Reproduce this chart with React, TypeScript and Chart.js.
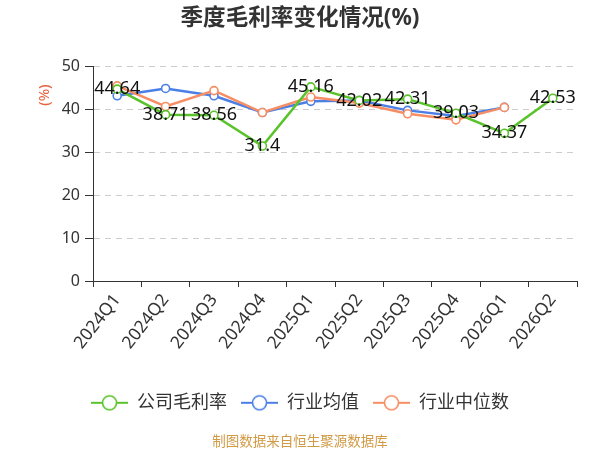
import { useEffect, useRef } from "react";
import { Chart, registerables } from "chart.js";

Chart.register(...registerables);

const categories = ["2024Q1", "2024Q2", "2024Q3", "2024Q4", "2025Q1", "2025Q2", "2025Q3", "2025Q4", "2026Q1", "2026Q2"];
const companyMargin = [44.64, 38.71, 38.56, 31.4, 45.16, 42.02, 42.31, 39.03, 34.37, 42.53];
const industryMean = [43.1, 44.8, 43.1, 39.2, 41.8, 42.0, 39.7, 38.4, 40.4, null];
const industryMedian = [45.4, 40.6, 44.3, 39.2, 42.8, 41.4, 38.9, 37.5, 40.4, null];
const seriesNames = ["公司毛利率", "行业均值", "行业中位数"];
const seriesColors = ["#5ac22a", "#4a7fe6", "#f68d63"];
const yMin = 0;
const yMax = 50;
const yStep = 10;
const titleText = "季度毛利率变化情况(%)";
const footerText = "制图数据来自恒生聚源数据库";
const unitText = "(%)";

const FONT = '"Noto Sans", "Noto Sans CJK SC", sans-serif';

function legendIcon(color: string): HTMLCanvasElement {
  const c = document.createElement("canvas");
  c.width = 37;
  c.height = 20;
  const ctx = c.getContext("2d")!;
  ctx.strokeStyle = color;
  ctx.lineWidth = 2;
  ctx.beginPath();
  ctx.moveTo(0, 10);
  ctx.lineTo(37, 10);
  ctx.stroke();
  ctx.beginPath();
  ctx.arc(18.5, 10, 7, 0, Math.PI * 2);
  ctx.fillStyle = "#fff";
  ctx.fill();
  ctx.lineWidth = 1.6;
  ctx.stroke();
  return c;
}

const dataLabelPlugin = {
  id: "dataLabels",
  afterDatasetsDraw(chart: any) {
    const meta = chart.getDatasetMeta(0);
    const ctx = chart.ctx;
    ctx.save();
    ctx.font = `18px ${FONT}`;
    ctx.fillStyle = "#111";
    ctx.textAlign = "center";
    ctx.textBaseline = "middle";
    meta.data.forEach((pt: any, i: number) => {
      const v = companyMargin[i];
      if (v == null) return;
      ctx.fillText(String(v), pt.x, pt.y);
    });
    ctx.restore();
  },
};

const unitPlugin = {
  id: "unitLabel",
  afterDraw(chart: any) {
    const ctx = chart.ctx;
    const area = chart.chartArea;
    ctx.save();
    ctx.translate(area.left - 48, area.top + 29);
    ctx.rotate(-Math.PI / 2);
    ctx.font = `15px ${FONT}`;
    ctx.fillStyle = "#e8603c";
    ctx.textAlign = "center";
    ctx.textBaseline = "middle";
    ctx.fillText(unitText, 0, 0);
    ctx.restore();
  },
};

export default function App() {
  const ref = useRef<HTMLCanvasElement | null>(null);

  useEffect(() => {
    if (!ref.current) return;
    const allSeries = [companyMargin, industryMean, industryMedian];
    const chart = new Chart(ref.current, {
      type: "line",
      data: {
        labels: categories,
        datasets: allSeries.map((d, i) => ({
          label: seriesNames[i],
          data: d,
          borderColor: seriesColors[i],
          backgroundColor: "#fff",
          borderWidth: 2.5,
          pointRadius: 4,
          pointBorderWidth: 1.6,
          pointBackgroundColor: "#fff",
          pointBorderColor: seriesColors[i],
          tension: 0,
          spanGaps: false,
          yAxisID: "y",
          order: i === 0 ? 0 : i === 1 ? 2 : 1,
        })),
      },
      options: {
        animation: false,
        responsive: true,
        maintainAspectRatio: false,
        layout: { padding: { left: 0, right: 0, top: 0, bottom: 0 } },
        plugins: {
          tooltip: { enabled: false },
          title: {
            display: true,
            text: titleText,
            color: "#333",
            font: { family: FONT, size: 22.6, weight: "bold" },
            padding: { top: 5, bottom: 34 },
          },
          subtitle: {
            display: true,
            text: footerText,
            position: "bottom",
            color: "#d19a45",
            font: { family: FONT, size: 13.5, weight: "normal" },
            padding: { top: 12, bottom: 0 },
          },
          legend: {
            display: true,
            position: "bottom",
            labels: {
              usePointStyle: true,
              pointStyleWidth: 37,
              padding: 14,
              color: "#333",
              font: { family: FONT, size: 18 },
              generateLabels: (ch: any) =>
                ch.data.datasets.map((ds: any, i: number) => ({
                  text: ds.label,
                  fillStyle: "#fff",
                  strokeStyle: seriesColors[i],
                  lineWidth: 0,
                  pointStyle: legendIcon(seriesColors[i]),
                  hidden: false,
                  datasetIndex: i,
                  fontColor: "#333",
                })),
            },
          },
        },
        scales: {
          x: {
            offset: true,
            grid: {
              display: true,
              offset: true,
              drawOnChartArea: false,
              drawTicks: true,
              tickLength: 6,
              tickColor: "#333",
              color: "#333",
            },
            border: { display: true, color: "#333", width: 1 },
            ticks: {
              autoSkip: false,
              minRotation: 52,
              maxRotation: 52,
              padding: 3,
              color: "#333",
              font: { family: FONT, size: 17.5 },
            },
            afterFit: (s: any) => {
              s.height = 98.8;
            },
          },
          y: {
            min: yMin,
            max: yMax,
            ticks: {
              stepSize: yStep,
              padding: 5,
              color: "#333",
              font: { family: FONT, size: 16 },
            },
            grid: {
              color: "#cccccc",
              lineWidth: 1,
              tickLength: 8,
              tickColor: "#333",
              tickBorderDash: [],
              tickWidth: 1,
            },
            border: { display: true, color: "#333", width: 1, dash: [6, 5] },
            afterFit: (s: any) => {
              s.width = 93;
            },
          },
          yPad: {
            position: "right",
            display: true,
            min: yMin,
            max: yMax,
            ticks: { display: false },
            grid: { display: false, drawTicks: false },
            border: { display: false },
            afterFit: (s: any) => {
              s.width = 23;
            },
          },
        },
      },
      plugins: [dataLabelPlugin, unitPlugin],
    });
    return () => chart.destroy();
  }, []);

  return (
    <div style={{ position: "fixed", left: 0, top: 0, width: 600, height: 450, background: "#fff" }}>
      <canvas ref={ref} />
    </div>
  );
}
